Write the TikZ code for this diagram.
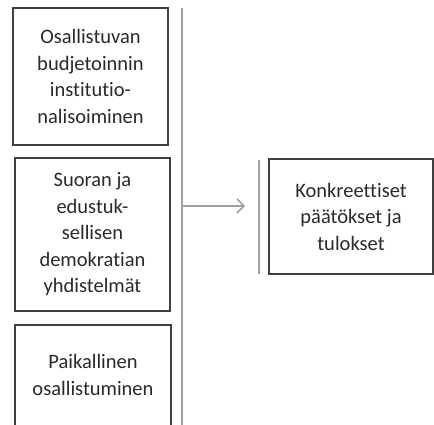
\documentclass[tikz,border=0pt]{standalone}
\usepackage{fontspec}
\setmainfont{Carlito}[Ligatures={NoCommon}]
\usetikzlibrary{arrows.meta}
\definecolor{boxc}{HTML}{404040}
\definecolor{linec}{HTML}{A0A0A0}
\definecolor{txtc}{HTML}{2A2A2A}
\begin{document}
\begin{tikzpicture}[x=1pt,y=-1pt,
  box/.style={draw=boxc,line width=1.2pt,fill=white,text=txtc,align=center,inner sep=0pt,
    font=\fontsize{20.5}{26.5}\selectfont},
  gline/.style={draw=linec,line width=1.5pt}]
\useasboundingbox (0,0) rectangle (434,425);
\clip (0,0) rectangle (434,425);
\node[box,minimum width=155pt,minimum height=137pt] (b1) at (90.5,76.5)
  {Osallistuvan\\budjetoinnin\\institutio-\\nalisoiminen};
\node[box,minimum width=155pt,minimum height=153pt] (b2) at (92.5,234.5)
  {Suoran ja\\edustuk-\\sellisen\\demokratian\\yhdistelmät};
\node[box,minimum width=156pt,minimum height=120pt] (b3) at (93,385)
  {};
\node[text=txtc,align=center,font=\fontsize{20.5}{26.5}\selectfont] (t3) at (93,375)
  {Paikallinen\\osallistuminen};
\node[box,minimum width=164pt,minimum height=115pt] (b4) at (351,216.5)
  {Konkreettiset\\päätökset ja\\tulokset};
\coordinate (vt) at (182,8);
\coordinate (vb) at (182,430);
\draw[gline] (vt) -- (vb);
\coordinate (as) at (182,206);
\coordinate (ae) at (245,206);
\draw[gline,-{Straight Barb[length=7pt,width=14pt,line width=1.5pt]}] (as) -- (ae);
\coordinate (rt) at (259,160);
\coordinate (rb) at (259,274);
\draw[gline] (rt) -- (rb);
\end{tikzpicture}
\end{document}
